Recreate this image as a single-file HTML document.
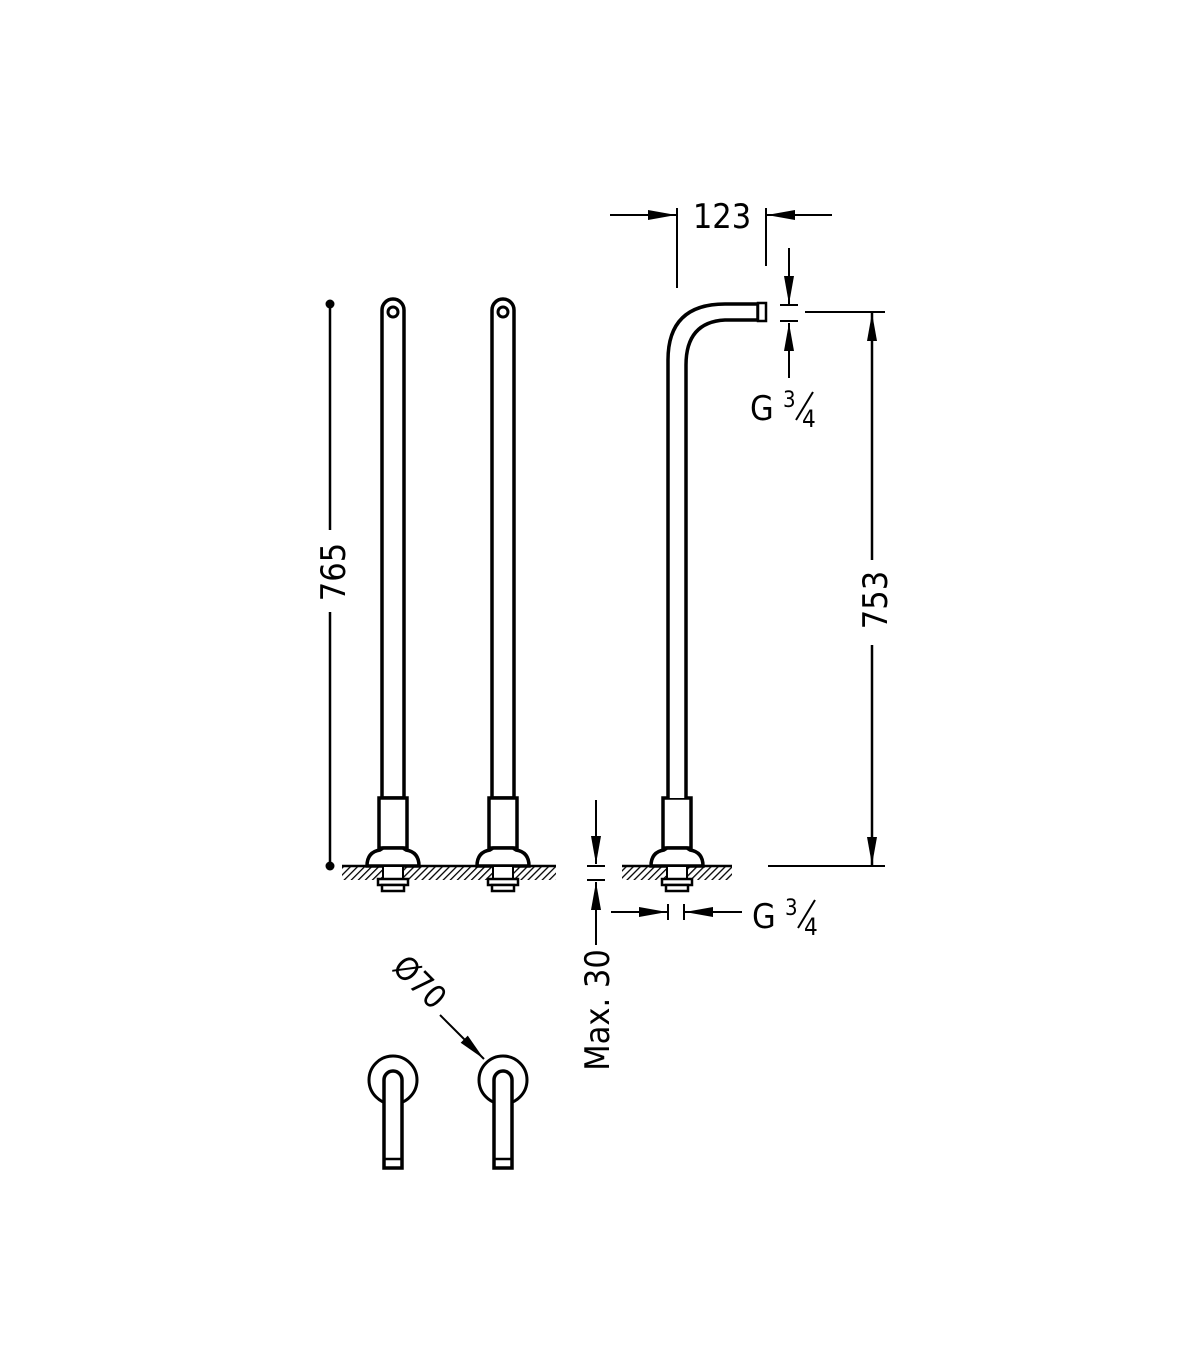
<!DOCTYPE html>
<html><head><style>body{margin:0;background:#fff}svg{display:block}</style></head><body>
<svg width="1200" height="1372" viewBox="0 0 1200 1372" xmlns="http://www.w3.org/2000/svg" font-family="'DejaVu Sans Condensed','Liberation Sans Narrow','Liberation Sans',sans-serif">
<defs>
<pattern id="h" width="5" height="5" patternUnits="userSpaceOnUse" patternTransform="rotate(45)"><rect width="5" height="5" fill="#fff"/><line x1="0" y1="0" x2="0" y2="5" stroke="#000" stroke-width="2.6"/></pattern>
<marker id="b" markerWidth="28" markerHeight="10" refX="28" refY="5" orient="auto" markerUnits="userSpaceOnUse"><path d="M0,0 L28,5 L0,10 Z" fill="#000"/></marker>
<g id="pipe">
<path d="M382,310 A11,11 0 0 1 404,310 L404,798 L382,798 Z" fill="#fff" stroke="#000" stroke-width="3.5"/>
<circle cx="393" cy="312" r="5" fill="none" stroke="#000" stroke-width="3"/>
</g>
<g id="base">
<rect x="379" y="798" width="28" height="50" fill="#fff" stroke="#000" stroke-width="3.5"/>
<path d="M367,866 Q367,852 380,850 L383,848 L403,848 L406,850 Q419,852 419,866 Z" fill="#fff" stroke="#000" stroke-width="3.5"/>
<rect x="383" y="866" width="20" height="13" fill="#fff" stroke="#000" stroke-width="2"/>
<rect x="378" y="879" width="30" height="6" fill="#fff" stroke="#000" stroke-width="2.5"/>
<rect x="382" y="885" width="22" height="6" fill="#fff" stroke="#000" stroke-width="2.5"/>
</g>
</defs>
<g>
<rect x="342" y="866" width="214" height="14" fill="url(#h)"/>
<rect x="622" y="866" width="110" height="14" fill="url(#h)"/>
<line x1="342" y1="866" x2="556" y2="866" stroke="#000" stroke-width="2.5"/>
<line x1="622" y1="866" x2="732" y2="866" stroke="#000" stroke-width="2.5"/>
<use href="#pipe"/>
<use href="#pipe" transform="translate(110,0)"/>
<use href="#base"/>
<use href="#base" transform="translate(110,0)"/>
<use href="#base" transform="translate(284,0)"/>
<!-- bent pipe -->
<path d="M668,798 L668,360 Q668,304 725,304 L758,304 L758,320 L725,320 Q686,322 686,365 L686,798" fill="#fff" stroke="#000" stroke-width="3.5"/>
<rect x="758" y="303" width="8" height="18" fill="#fff" stroke="#000" stroke-width="2.5"/>
<!-- 765 -->
<line x1="330" y1="304" x2="330" y2="530" stroke="#000" stroke-width="2.5"/>
<line x1="330" y1="612" x2="330" y2="866" stroke="#000" stroke-width="2.5"/>
<circle cx="330" cy="304" r="4.5"/><circle cx="330" cy="866" r="4.5"/>
<text transform="translate(345,572) rotate(-90)" font-size="34" text-anchor="middle">765</text>
<!-- 753 -->
<line x1="805" y1="312" x2="885" y2="312" stroke="#000" stroke-width="2"/>
<line x1="768" y1="866" x2="885" y2="866" stroke="#000" stroke-width="2"/>
<line x1="872" y1="560" x2="872" y2="313" stroke="#000" stroke-width="2.5" marker-end="url(#b)"/>
<line x1="872" y1="645" x2="872" y2="865" stroke="#000" stroke-width="2.5" marker-end="url(#b)"/>
<text transform="translate(887,600) rotate(-90)" font-size="34" text-anchor="middle">753</text>
<!-- 123 -->
<line x1="677" y1="208" x2="677" y2="288" stroke="#000" stroke-width="2"/>
<line x1="766" y1="208" x2="766" y2="266" stroke="#000" stroke-width="2"/>
<line x1="610" y1="215" x2="676" y2="215" stroke="#000" stroke-width="2" marker-end="url(#b)"/>
<line x1="832" y1="215" x2="767" y2="215" stroke="#000" stroke-width="2" marker-end="url(#b)"/>
<text x="722" y="228" font-size="34" text-anchor="middle">123</text>
<!-- G3/4 top -->
<line x1="789" y1="248" x2="789" y2="304" stroke="#000" stroke-width="2" marker-end="url(#b)"/>
<line x1="789" y1="378" x2="789" y2="323" stroke="#000" stroke-width="2" marker-end="url(#b)"/>
<line x1="780" y1="305" x2="798" y2="305" stroke="#000" stroke-width="2"/>
<line x1="780" y1="321" x2="798" y2="321" stroke="#000" stroke-width="2"/>
<text x="750" y="420" font-size="34">G</text>
<text x="783" y="407" font-size="22">3</text>
<line x1="796" y1="420" x2="813" y2="392" stroke="#000" stroke-width="2"/>
<text x="802" y="427" font-size="24">4</text>
<!-- Max 30 -->
<line x1="596" y1="800" x2="596" y2="864" stroke="#000" stroke-width="2" marker-end="url(#b)"/>
<line x1="596" y1="945" x2="596" y2="882" stroke="#000" stroke-width="2" marker-end="url(#b)"/>
<line x1="587" y1="866" x2="605" y2="866" stroke="#000" stroke-width="2"/>
<line x1="587" y1="880" x2="605" y2="880" stroke="#000" stroke-width="2"/>
<text transform="translate(609,1010) rotate(-90)" font-size="34" text-anchor="middle">Max. 30</text>
<!-- G3/4 bottom -->
<line x1="611" y1="912" x2="667" y2="912" stroke="#000" stroke-width="2" marker-end="url(#b)"/>
<line x1="742" y1="912" x2="685" y2="912" stroke="#000" stroke-width="2" marker-end="url(#b)"/>
<line x1="668" y1="904" x2="668" y2="920" stroke="#000" stroke-width="2"/>
<line x1="684" y1="904" x2="684" y2="920" stroke="#000" stroke-width="2"/>
<text x="752" y="928" font-size="34">G</text>
<text x="785" y="915" font-size="22">3</text>
<line x1="798" y1="928" x2="815" y2="900" stroke="#000" stroke-width="2"/>
<text x="804" y="935" font-size="24">4</text>
<!-- plan views -->
<g id="pv">
<circle cx="393" cy="1080" r="24" fill="#fff" stroke="#000" stroke-width="3"/>
<path d="M384,1168 L384,1080 A9,9 0 0 1 402,1080 L402,1168 Z" fill="#fff" stroke="#000" stroke-width="3.5"/>
<line x1="384" y1="1159" x2="402" y2="1159" stroke="#000" stroke-width="2.5"/>
</g>
<use href="#pv" transform="translate(110,0)"/>
<text transform="translate(412,990) rotate(45)" font-size="32" text-anchor="middle">Ø70</text>
<line x1="440" y1="1015" x2="484" y2="1059" stroke="#000" stroke-width="2" marker-end="url(#b)"/>
</g>
</svg>
</body></html>
